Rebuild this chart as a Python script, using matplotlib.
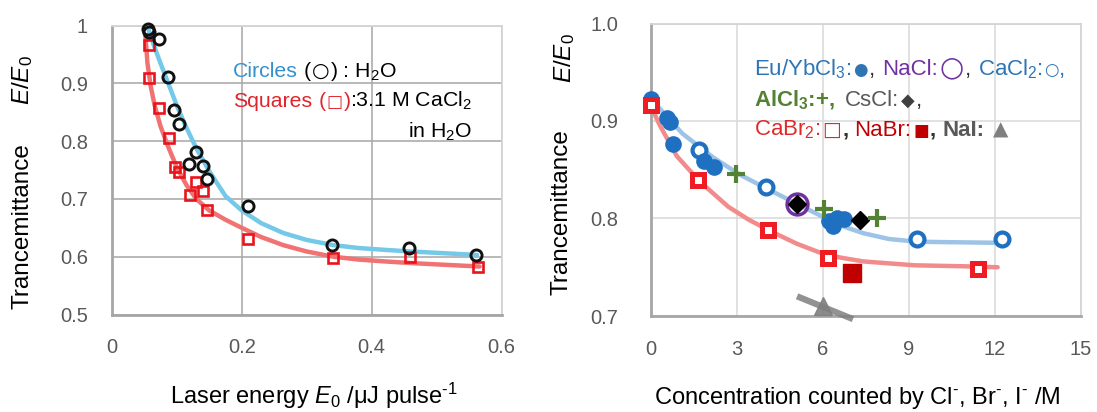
import numpy as np
import matplotlib
matplotlib.use("Agg")
import matplotlib.pyplot as plt

plt.rcParams['font.family'] = ['Liberation Sans', 'DejaVu Sans']
plt.rcParams['mathtext.fontset'] = 'custom'
plt.rcParams['mathtext.rm'] = 'Liberation Sans'
plt.rcParams['mathtext.it'] = 'Liberation Sans:italic'
plt.rcParams['mathtext.bf'] = 'Liberation Sans:bold'

# ---- left panel: transmittance vs laser energy ----
e0_h2o = [0.0556, 0.0567, 0.0726, 0.0859, 0.0965, 0.104, 0.119, 0.129, 0.140, 0.146, 0.209, 0.339, 0.458, 0.561]
tr_h2o = [0.994, 0.989, 0.976, 0.911, 0.854, 0.830, 0.761, 0.782, 0.757, 0.734, 0.688, 0.620, 0.615, 0.603]
e0_cacl2 = [0.0567, 0.0567, 0.0726, 0.0874, 0.0975, 0.103, 0.120, 0.129, 0.141, 0.146, 0.210, 0.340, 0.459, 0.563]
tr_cacl2 = [0.967, 0.910, 0.858, 0.805, 0.755, 0.747, 0.706, 0.729, 0.714, 0.681, 0.631, 0.597, 0.599, 0.583]

# fitted curves
fit_h2o_x = [0.056, 0.065, 0.075, 0.087, 0.100, 0.115, 0.130, 0.150, 0.175, 0.200, 0.230, 0.264, 0.300,
             0.341, 0.380, 0.418, 0.460, 0.495, 0.562]
fit_h2o_y = [0.995, 0.965, 0.935, 0.900, 0.862, 0.823, 0.788, 0.748, 0.705, 0.680, 0.658, 0.641, 0.629,
             0.620, 0.615, 0.612, 0.609, 0.607, 0.603]
fit_cacl2_x = [0.052, 0.055, 0.060, 0.066, 0.075, 0.087, 0.100, 0.115, 0.130, 0.150, 0.175, 0.200, 0.230,
               0.264, 0.300, 0.341, 0.380, 0.418, 0.460, 0.495, 0.566]
fit_cacl2_y = [0.980, 0.935, 0.895, 0.862, 0.826, 0.790, 0.755, 0.724, 0.700, 0.680, 0.664, 0.650, 0.634,
               0.620, 0.609, 0.600, 0.595, 0.592, 0.589, 0.587, 0.583]

# ---- right panel: transmittance vs halide concentration ----
euyb_x = [0, 0.55, 0.65, 0.78, 1.85, 2.20, 6.20, 6.35, 6.50, 6.75]
euyb_y = [0.923, 0.903, 0.899, 0.876, 0.859, 0.853, 0.797, 0.792, 0.801, 0.799]
cacl2_x = [1.69, 4.01, 9.30, 12.24]
cacl2_y = [0.870, 0.832, 0.779, 0.779]
nacl_x = [5.08]
nacl_y = [0.815]
cscl_x = [5.08, 7.29]
cscl_y = [0.815, 0.798]
alcl3_x = [2.97, 6.04, 7.90]
alcl3_y = [0.846, 0.810, 0.800]
cabr2_x = [0, 1.65, 4.10, 6.19, 11.42]
cabr2_y = [0.916, 0.839, 0.788, 0.760, 0.748]
nabr_x = [7.00]
nabr_y = [0.744]
nai_x = [6.01]
nai_y = [0.710]
nai_line_x = [5.20, 6.95]
nai_line_y = [0.719, 0.698]

cl_fit_x = [0, 0.45, 1.1, 2.2, 3.1, 4.15, 5.3, 6.25, 6.8, 7.4, 8.3, 9.0, 9.7, 12.25]
cl_fit_y = [0.923, 0.908, 0.887, 0.862, 0.845, 0.829, 0.812, 0.798, 0.791, 0.785, 0.779, 0.777, 0.776, 0.775]
br_fit_x = [0, 0.3, 0.9, 1.7, 2.7, 3.4, 4.1, 5.1, 5.9, 6.6, 7.4, 8.3, 9.2, 10.9, 12.1]
br_fit_y = [0.915, 0.896, 0.864, 0.838, 0.812, 0.799, 0.788, 0.774, 0.765, 0.760, 0.756, 0.754, 0.752, 0.751, 0.750]

W, H = 1097, 412
fig = plt.figure(figsize=(W / 100, H / 100), dpi=100)


def px_box(l, t, r, b):
    return [l / W, 1 - b / H, (r - l) / W, (b - t) / H]


def style_axes(ax, grid_col, pad_x, pad_y):
    for s in ['left', 'bottom']:
        ax.spines[s].set_color('#a6a6a6')
        ax.spines[s].set_linewidth(2)
    for s in ['top', 'right']:
        ax.spines[s].set_color('#d4d4d4')
        ax.spines[s].set_linewidth(1.3)
    ax.grid(True, color=grid_col, linewidth=1.1)
    ax.set_axisbelow(True)
    ax.tick_params(length=0, labelsize=14.5, labelcolor='#595959')
    ax.tick_params(axis='x', pad=pad_x)
    ax.tick_params(axis='y', pad=pad_y)


SYM = ['DejaVu Sans']


def colored_line(x, y, pieces, size):
    # pieces: (text, colour, bold, size factor, gap after in px, symbol font?)
    r = fig.canvas.get_renderer()
    for s, c, bold, f, gap, sym in pieces:
        kw = {'family': SYM} if sym else {}
        t = fig.text(x / W, 1 - y / H, s, color=c, fontsize=size * f,
                     fontweight='bold' if bold else 'normal', ha='left', va='baseline', **kw)
        x += t.get_window_extent(r).width + gap


# left panel
ax1 = fig.add_axes(px_box(111.7, 25.5, 501.7, 314.5))
ax1.plot(fit_h2o_x, fit_h2o_y, color='#74c8e8', lw=3.2, zorder=2, solid_capstyle='round', solid_joinstyle='round')
ax1.plot(fit_cacl2_x, fit_cacl2_y, color='#f07272', lw=3.2, zorder=2, solid_capstyle='round', solid_joinstyle='round')
ax1.plot(e0_cacl2, tr_cacl2, 's', ms=7, mfc='none', mec='#e8141c', mew=1.9, zorder=3, clip_on=False)
ax1.plot(e0_h2o, tr_h2o, 'o', ms=8, mfc='none', mec='#111111', mew=2.1, zorder=4, clip_on=False)
ax1.set_xlim(0, 0.6)
ax1.set_ylim(0.5, 1.0)
ax1.set_xticks([0, 0.2, 0.4, 0.6])
ax1.set_xticklabels(['0', '0.2', '0.4', '0.6'])
ax1.set_yticks([0.5, 0.6, 0.7, 0.8, 0.9, 1.0])
ax1.set_yticklabels(['0.5', '0.6', '0.7', '0.8', '0.9', '1'])
style_axes(ax1, '#a6a6a6', 17, 17)

# right panel
ax2 = fig.add_axes(px_box(651, 23.5, 1080.7, 316))
ax2.plot(cl_fit_x, cl_fit_y, color='#9dc3e6', lw=3.2, zorder=2, solid_capstyle='round', solid_joinstyle='round')
ax2.plot(br_fit_x, br_fit_y, color='#f28b8b', lw=3.2, zorder=2, solid_capstyle='round', solid_joinstyle='round')
ax2.plot(nai_line_x, nai_line_y, color='#7f7f7f', lw=4.5, alpha=0.85, zorder=3, clip_on=False)
ax2.plot(nai_x, nai_y, '^', ms=13, color='#7f7f7f', alpha=0.9, zorder=4, clip_on=False)
ax2.plot(cacl2_x, cacl2_y, 'o', ms=10, mfc='white', mec='#1f70c1', mew=3, zorder=4, clip_on=False)
ax2.plot(euyb_x, euyb_y, 'o', ms=12, color='#1f70c1', mec='none', zorder=5, clip_on=False)
ax2.plot(nacl_x, nacl_y, 'o', ms=15, mfc='none', mec='#7030a0', mew=2.5, zorder=5, clip_on=False)
ax2.plot(cscl_x, cscl_y, 'D', ms=9, color='black', zorder=6, clip_on=False)
ax2.plot(alcl3_x, alcl3_y, '+', ms=13, mec='#548235', mew=3, zorder=6, clip_on=False)
ax2.plot(nabr_x, nabr_y, 's', ms=12.5, color='#c00000', zorder=6, clip_on=False)
ax2.plot(cabr2_x, cabr2_y, 's', ms=8, mfc='white', mec='#f01c24', mew=3.6, zorder=7, clip_on=False)
ax2.set_xlim(0, 15)
ax2.set_ylim(0.7, 1.0)
ax2.set_xticks([0, 3, 6, 9, 12, 15])
ax2.set_yticks([0.7, 0.8, 0.9, 1.0])
ax2.set_yticklabels(['0.7', '0.8', '0.9', '1.0'])
style_axes(ax2, '#d9d9d9', 17, 23.5)

# axis titles
fig.text(22.5 / W, 1 - 226 / H, 'Trancemittance', rotation=90, fontsize=17.5, ha='center', va='center')
fig.text(22.5 / W, 1 - 80 / H, r'$E/E_0$', rotation=90, fontsize=17.5, ha='center', va='center')
fig.text(562 / W, 1 - 212 / H, 'Trancemittance', rotation=90, fontsize=17.5, ha='center', va='center')
fig.text(565 / W, 1 - 58 / H, r'$E/E_0$', rotation=90, fontsize=17.5, ha='center', va='center')
fig.text(314 / W, 1 - 404 / H, r'Laser energy $E_0$ /μJ pulse$^{\text{-1}}$', fontsize=17, ha='center', va='baseline')
fig.text(857 / W, 1 - 404 / H, r'Concentration counted by Cl$^{\text{-}}$, Br$^{\text{-}}$, I$^{\text{-}}$ /M',
         fontsize=17, ha='center', va='baseline')

# left legend text
blue_t = '#3590cc'
red_t = '#e0242b'
colored_line(233, 76.7, [('Circles', blue_t, False, 1, 6, False), ('(', 'black', False, 1, 1, False),
                         ('○', 'black', False, 0.95, 1, True), (') : H$_2$O', 'black', False, 1, 0, False)], 15.3)
colored_line(233, 106.7, [('Squares', red_t, False, 1, 6, False), ('(', red_t, False, 1, 1, False),
                          ('□', red_t, False, 0.8, 1, True), (')', red_t, False, 1, 0, False),
                          (':3.1 M CaCl$_2$', 'black', False, 1, 0, False)], 15.3)
colored_line(408, 137.3, [('in H$_2$O', 'black', False, 1, 0, False)], 15.3)

# right legend text
eu_t = '#2e75b6'
colored_line(754, 75, [('Eu/YbCl$_3$:', eu_t, False, 1, 2, False), ('●', eu_t, False, 0.75, 1, True),
                       (',', '#333333', False, 1, 7, False), ('NaCl:', '#7030a0', False, 1, 2, False),
                       ('○', '#7030a0', False, 1.25, 1, True), (',', '#333333', False, 1, 7, False),
                       ('CaCl$_2$:', eu_t, False, 1, 1, False), ('○', eu_t, False, 0.75, 1, True),
                       (',', eu_t, False, 1, 0, False)], 16)
colored_line(754, 106, [('AlCl$_{\\mathbf{3}}$:+,', '#548235', True, 1, 10, False),
                        ('CsCl:', '#595959', False, 1, 2, False), ('◆', '#404040', False, 0.8, 1, True),
                        (',', '#333333', False, 1, 0, False)], 16)
colored_line(754, 135.7, [('CaBr$_2$:', '#e02a2a', False, 1, 2, False), ('□', '#e02a2a', False, 0.9, 1, True),
                          (',', '#333333', True, 1, 6, False), ('NaBr:', '#c00000', False, 1, 2, False),
                          ('■', '#c00000', False, 0.75, 1, True), (',', '#333333', True, 1, 6, False),
                          ('NaI:', '#595959', True, 1, 9, False), ('▲', '#7f7f7f', False, 0.9, 0, True)], 16)

fig.savefig('out.png', dpi=100)
